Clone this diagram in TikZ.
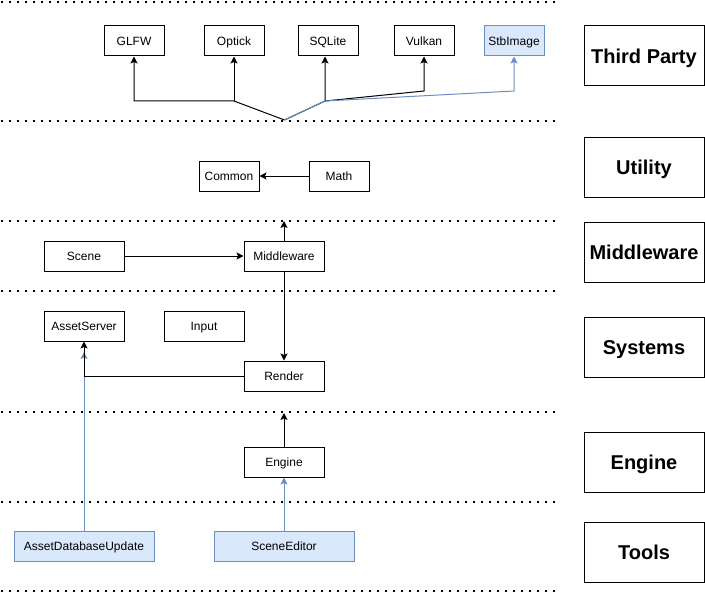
\documentclass[tikz,border=0pt]{standalone}
\usepackage{fontspec}
\setmainfont{Liberation Sans}
\usetikzlibrary{arrows.meta}
\definecolor{bfill}{HTML}{DAE8FC}
\definecolor{bline}{HTML}{6C8EBF}
\tikzset{
  box/.style={draw=black, line width=1pt, fill=white, minimum width=60pt, minimum height=30pt, inner sep=0pt, text height=8.6pt, text depth=0pt, font=\fontsize{12pt}{14pt}\selectfont},
  mid/.style={minimum width=80pt},
  wide/.style={minimum width=140pt},
  bluebox/.style={fill=bfill, draw=bline},
  layer/.style={draw=black, line width=1pt, minimum width=120pt, minimum height=60pt, inner sep=0pt, text height=14.3pt, text depth=0pt, font=\fontsize{20pt}{24pt}\selectfont\bfseries},
  sep/.style={line width=1.6pt, dash pattern=on 1.6pt off 6.4pt},
  arr/.style={line width=1pt, -{Stealth[length=7pt,width=7pt,inset=1.5pt]}},
  barr/.style={arr, draw=bline},
}
\begin{document}
\begin{tikzpicture}[x=1pt,y=-1pt]
\useasboundingbox (0,0) rectangle (705,594);
% separators
\foreach \yy in {2,121,221,291,412,502,591} \draw[sep] (1,\yy) -- (560,\yy);
% layer labels
\node[layer] (lthird) at (644,56) {Third Party};
\node[layer] (lutil) at (644,167) {Utility};
\node[layer] (lmid) at (644,252) {Middleware};
\node[layer] (lsys) at (644,347) {Systems};
\node[layer] (leng) at (644,462) {Engine};
\node[layer] (ltools) at (644,552) {Tools};
% nodes
\node[box] (glfw) at (134,41) {GLFW};
\node[box] (optick) at (234,41) {Optick};
\node[box] (sqlite) at (328,41) {SQLite};
\node[box] (vulkan) at (424,41) {Vulkan};
\node[box,bluebox] (stb) at (514,41) {StbImage};
\node[box] (common) at (229,176) {Common};
\node[box] (math) at (339,176) {Math};
\node[box,mid] (scene) at (84,256) {Scene};
\node[box,mid] (middle) at (284,256) {Middleware};
\node[box,mid] (asset) at (84,326) {AssetServer};
\node[box,mid] (input) at (204,326) {Input};
\node[box,mid] (render) at (284,376) {Render};
\node[box,mid] (engine) at (284,462) {Engine};
\node[box,wide,bluebox] (adbu) at (84,546) {AssetDatabaseUpdate};
\node[box,wide,bluebox] (sedit) at (284,546) {SceneEditor};
% coordinates
\coordinate (hub) at (284.5,120);
\coordinate (jl) at (234,101);
\coordinate (jr) at (325,101);
\coordinate (jv) at (424,91);
\coordinate (js) at (514,91);
\coordinate (utop) at (284,221);
\coordinate (etop) at (284,413);
\coordinate (rj) at (84,376);
\coordinate (bend) at (84,352);
% third party connectors
\draw[arr] (hub) -- (jl) -| (glfw.south);
\draw[arr] (jl) -- (optick.south);
\draw[arr] (hub) -- (jr) -- (jr |- sqlite.south);
\draw[arr] (jr) -- (jv) -- (vulkan.south);
\draw[barr] (hub) -- (jr) -- (js) -- (stb.south);
% utility
\draw[arr] (math) -- (common);
% middleware
\draw[arr] (middle) -- (utop);
\draw[arr] (scene) -- (middle);
\draw[arr] (middle) -- (render);
% systems
\draw[barr] (adbu) -- (bend);
\draw[arr] (render) -- (rj) -- (asset.south);
% engine
\draw[arr] (engine) -- (etop);
\draw[barr] (sedit) -- (engine);
\end{tikzpicture}
\end{document}
